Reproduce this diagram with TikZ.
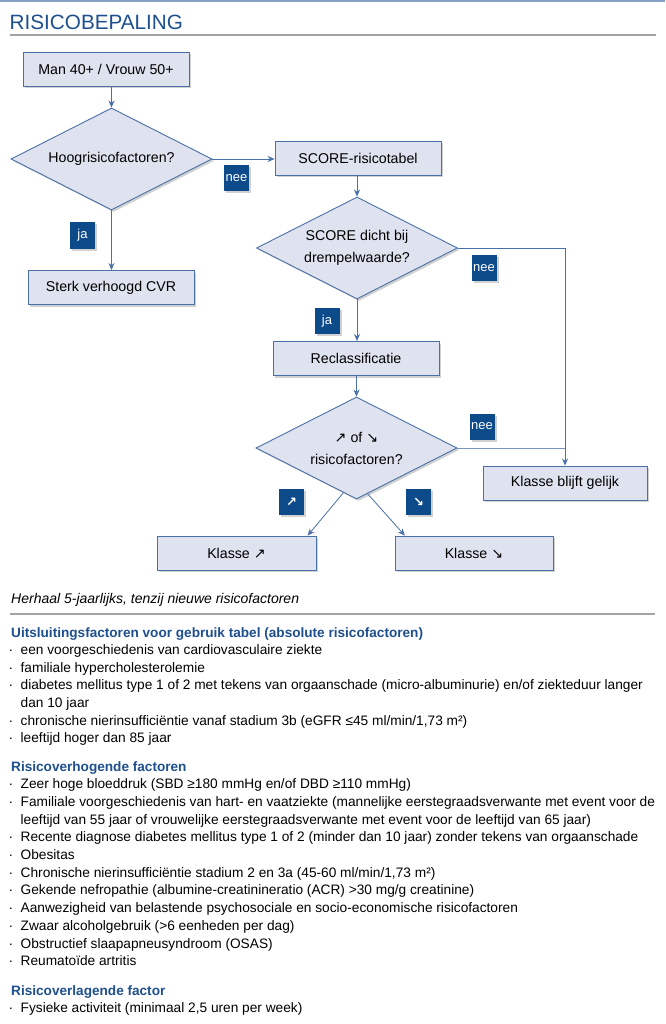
\documentclass[tikz,border=0pt]{standalone}
\usepackage{fontspec}
\setmainfont{Liberation Sans}
\newfontfamily\arrowfont{DejaVu Sans}
\usetikzlibrary{positioning,arrows.meta,shapes.geometric,shadows,calc}
\definecolor{boxfill}{HTML}{DFE2EF}
\definecolor{boxline}{HTML}{4A70A8}
\definecolor{tagblue}{HTML}{0C4A8A}
\definecolor{headblue}{HTML}{1E4F8E}
\definecolor{topbar}{HTML}{87A1C4}
\definecolor{rulegray}{HTML}{A3A3A3}
\newcommand\listdot{\makebox[12pt][l]{·}}
\tikzset{
  softshadow/.style={drop shadow={shadow xshift=2pt, shadow yshift=-2pt, opacity=0.18, fill=black}},
  stepbox/.style={rectangle, draw=boxline, fill=boxfill, line width=0.9pt, minimum width=166pt, minimum height=34pt, font=\fontsize{14.2}{17}\selectfont, softshadow},
  choice/.style={diamond, aspect=2, draw=boxline, fill=boxfill, line width=0.9pt, minimum width=201pt, minimum height=102pt, inner sep=0pt, align=center, font=\fontsize{14.2}{22}\selectfont, softshadow},
  tag/.style={rectangle, fill=tagblue, text=white, minimum width=25pt, minimum height=26pt, inner sep=0pt, font=\fontsize{13}{13}\selectfont, softshadow},
  flow/.style={-{Stealth[length=7pt,width=6pt]}, draw=boxline, line width=0.8pt},
  link/.style={draw=boxline!75, line width=0.8pt},
  listline/.style={anchor=base west, inner sep=0pt, font=\fontsize{13.7}{17}\selectfont},
  listhead/.style={listline, text=headblue, font=\fontsize{13.6}{17}\selectfont\bfseries},
}
\begin{document}
\begin{tikzpicture}[x=1pt, y=-1pt]
  \useasboundingbox (0,0) rectangle (665,1024);
  \fill[topbar] (0,0) rectangle (665,2.5);
  \node[listline, font=\fontsize{20.7}{24}\selectfont, text=headblue] (title) at (9.5,30) {RISICOBEPALING};
  \draw[rulegray, line width=1.5pt] (10,35) -- (656,35);

  % flowchart
  \node[stepbox] (start) at (106,69) {Man 40+ / Vrouw 50+};
  \node[choice] (hoog) at (111.5,159) {Hoogrisicofactoren?};
  \node[stepbox] (cvr) at (111,287.5) {Sterk verhoogd CVR};
  \node[stepbox] (score) at (358,158) {SCORE-risicotabel};
  \node[choice] (drempel) at (357,248) {SCORE dicht bij\\drempelwaarde?};
  \node[stepbox] (reclass) at (356,358.5) {Reclassificatie};
  \node[choice] (wijzig) at (356.5,448) {{\arrowfont ↗} of {\arrowfont ↘}\\risicofactoren?};
  \node[stepbox, minimum width=164pt] (gelijk) at (565,483) {Klasse blijft gelijk};
  \node[stepbox, minimum width=159pt] (hoger) at (236.5,553) {Klasse {\arrowfont ↗}};
  \node[stepbox, minimum width=158pt] (lager) at (474,553) {Klasse {\arrowfont ↘}};

  \node[tag] (nee1) at (236.5,178) {nee};
  \node[tag] (ja1) at (82.5,235.5) {ja};
  \node[tag] (nee2) at (484,268) {nee};
  \node[tag] (ja2) at (327,321) {ja};
  \node[tag] (nee3) at (482,426.5) {nee};
  \node[tag] (op) at (291.5,502) {\arrowfont\bfseries ↗};
  \node[tag] (af) at (418.5,502) {\arrowfont\bfseries ↘};

  \draw[flow] (start.south -| hoog.north) -- (hoog.north);
  \draw[flow] (hoog.east) -- (hoog.east -| score.west);
  \draw[flow] (hoog.south) -- (cvr.north -| hoog.south);
  \draw[flow] (score.south -| drempel.north) -- (drempel.north);
  \draw[flow] (drempel.south) -- (reclass.north -| drempel.south);
  \draw[flow] (reclass.south -| wijzig.north) -- (wijzig.north);
  \draw[flow] (drempel.east) -| (gelijk.north);
  \draw[link] (wijzig.east) -- (wijzig.east -| gelijk.north);
  \draw[flow] ($(wijzig.south)!0.13!(wijzig.west)$) -- ($(hoger.north)!0.89!(hoger.north east)$);
  \draw[flow] ($(wijzig.south)!0.11!(wijzig.east)$) -- ($(lager.north)!0.87!(lager.north west)$);

  % notes below the chart
  \node[listline, font=\fontsize{14}{17}\selectfont\itshape] (herhaal) at (11,603) {Herhaal 5-jaarlijks, tenzij nieuwe risicofactoren};
  \draw[rulegray, line width=1.5pt] (10,614) -- (655,614);

  \node[listhead] (exclhead) at (11,637) {Uitsluitingsfactoren voor gebruik tabel (absolute risicofactoren)};
  \foreach \entry [count=\i] in {
    {\listdot een voorgeschiedenis van cardiovasculaire ziekte},
    {\listdot familiale hypercholesterolemie},
    {\listdot diabetes mellitus type 1 of 2 met tekens van orgaanschade (micro-albuminurie) en/of ziekteduur langer},
    {\hspace*{12pt}dan 10 jaar},
    {\listdot chronische nierinsufficiëntie vanaf stadium 3b (eGFR ≤45 ml/min/1,73 m²)},
    {\listdot leeftijd hoger dan 85 jaar}}
    {\node[listline] (excl\i) at (8.5,{637+17.6*\i}) {\entry};}

  \node[listhead] (uphead) at (11,771) {Risicoverhogende factoren};
  \foreach \entry [count=\i] in {
    {\listdot Zeer hoge bloeddruk (SBD ≥180 mmHg en/of DBD ≥110 mmHg)},
    {\listdot Familiale voorgeschiedenis van hart- en vaatziekte (mannelijke eerstegraadsverwante met event voor de},
    {\hspace*{12pt}leeftijd van 55 jaar of vrouwelijke eerstegraadsverwante met event voor de leeftijd van 65 jaar)},
    {\listdot Recente diagnose diabetes mellitus type 1 of 2 (minder dan 10 jaar) zonder tekens van orgaanschade},
    {\listdot Obesitas},
    {\listdot Chronische nierinsufficiëntie stadium 2 en 3a (45-60 ml/min/1,73 m²)},
    {\listdot Gekende nefropathie (albumine-creatinineratio (ACR) >30 mg/g creatinine)},
    {\listdot Aanwezigheid van belastende psychosociale en socio-economische risicofactoren},
    {\listdot Zwaar alcoholgebruik (>6 eenheden per dag)},
    {\listdot Obstructief slaapapneusyndroom (OSAS)},
    {\listdot Reumatoïde artritis}}
    {\node[listline] (up\i) at (8.5,{771+17.7*\i}) {\entry};}

  \node[listhead] (downhead) at (11,995) {Risicoverlagende factor};
  \node[listline] (down1) at (8.5,1012) {\listdot Fysieke activiteit (minimaal 2,5 uren per week)};
\end{tikzpicture}
\end{document}
